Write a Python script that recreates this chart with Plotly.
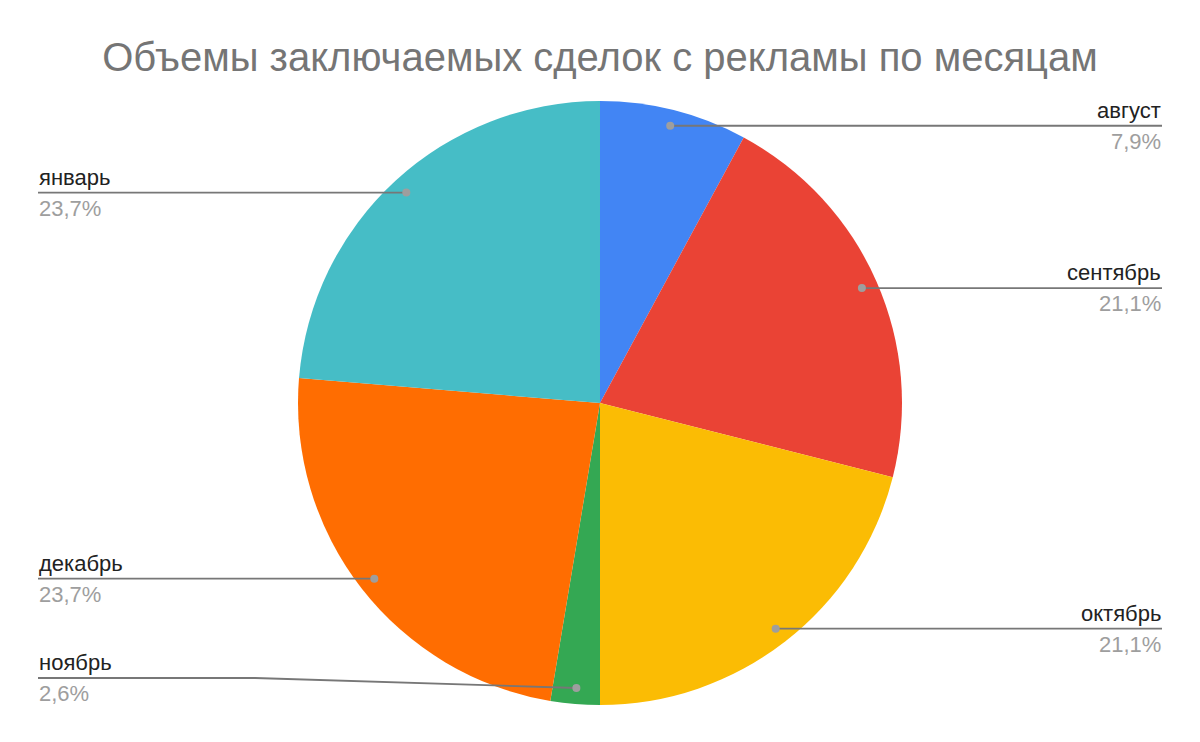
import math
import plotly.graph_objects as go

# ---- data ----
months = ["август", "сентябрь", "октябрь", "ноябрь", "декабрь", "январь"]
deals = [3, 8, 8, 1, 9, 9]
colors = ["#4285F4", "#EA4335", "#FBBC04", "#34A853", "#FF6D01", "#46BDC6"]
title_text = "Объемы заключаемых сделок с рекламы по месяцам"

# ---- layout geometry (pixels) ----
W, H = 1200, 742
M_T, M_B, M_L, M_R = 101, 37, 0, 0
plot_w = W - M_L - M_R
plot_h = H - M_T - M_B
R = min(plot_w, plot_h) / 2.0
CX = M_L + plot_w / 2.0
CY = M_T + plot_h / 2.0


def xp(px):
    return (px - M_L) / plot_w


def yp(py):
    return (H - M_B - py) / plot_h


fig = go.Figure(go.Pie(
    labels=months,
    values=deals,
    marker=dict(colors=colors, line=dict(width=0)),
    sort=False,
    direction="clockwise",
    rotation=0,
    textinfo="none",
    hoverinfo="label+percent",
    showlegend=False,
    domain=dict(x=[0, 1], y=[0, 1]),
))

total = sum(deals)
shapes = []
annotations = []

items = []
cum = 0
for m, v in zip(months, deals):
    mid = (cum + v / 2.0) / total * 2 * math.pi
    cum += v
    dx = R * 0.947 * math.sin(mid)
    dy = -R * 0.947 * math.cos(mid)
    pct = v / total * 100
    items.append(dict(name=m, pct=pct, x=CX + dx, y=CY + dy, right=dx >= 0))

for side in (True, False):
    side_items = sorted([it for it in items if it["right"] == side], key=lambda it: -it["y"])
    limit = 678
    for it in side_items:
        it["ly"] = min(it["y"], limit)
        limit = it["ly"] - 40

LINE_COL = "#777777"
FONT = "Liberation Sans, Arial"
FS = 22
for it in items:
    if it["right"]:
        edge_x, elbow_x, anchor = 1162, 910, "right"
    else:
        edge_x, elbow_x, anchor = 38, 255, "left"
    ly = it["ly"]
    path = "M {} {} L {} {} L {} {}".format(
        xp(it["x"]), yp(it["y"]), xp(elbow_x), yp(ly), xp(edge_x), yp(ly))
    shapes.append(dict(type="path", xref="paper", yref="paper", path=path,
                       line=dict(color=LINE_COL, width=1.8), layer="above"))
    rdot = 4
    shapes.append(dict(type="circle", xref="paper", yref="paper",
                       x0=xp(it["x"] - rdot), x1=xp(it["x"] + rdot),
                       y0=yp(it["y"] + rdot), y1=yp(it["y"] - rdot),
                       fillcolor="#9E9E9E", line=dict(width=0), layer="above"))
    annotations.append(dict(x=xp(edge_x), y=yp(ly), xref="paper", yref="paper",
                            text=it["name"], showarrow=False, xanchor=anchor,
                            yanchor="bottom", yshift=2, borderpad=0,
                            font=dict(size=FS, color="#222222", family=FONT)))
    pct_txt = ("%.1f%%" % it["pct"]).replace(".", ",")
    annotations.append(dict(x=xp(edge_x), y=yp(ly), xref="paper", yref="paper",
                            text=pct_txt, showarrow=False, xanchor=anchor,
                            yanchor="top", yshift=-2, borderpad=0,
                            font=dict(size=FS, color="#9E9E9E", family=FONT)))

fig.update_layout(
    width=W, height=H,
    margin=dict(l=M_L, r=M_R, t=M_T, b=M_B),
    paper_bgcolor="white",
    plot_bgcolor="white",
    title=dict(text=title_text, x=0.5, xanchor="center", y=1 - 57 / H, yanchor="middle",
               font=dict(size=40, color="#757575", family=FONT)),
    shapes=shapes,
    annotations=annotations,
)

fig.write_html("out.html", config={"displayModeBar": False},
               post_script="document.body.style.margin='0';")
